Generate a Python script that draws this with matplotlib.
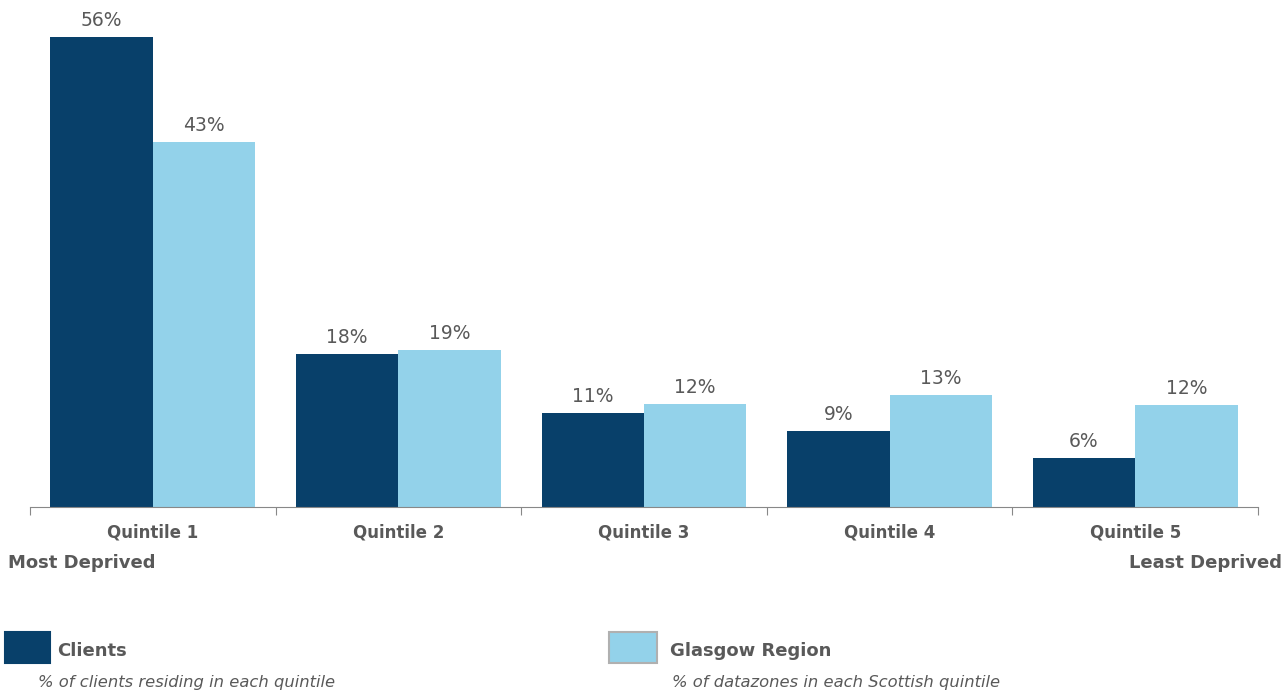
import matplotlib.pyplot as plt
import numpy as np

# data
quintiles = ['Quintile 1', 'Quintile 2', 'Quintile 3', 'Quintile 4', 'Quintile 5']
clients = [55.9, 18.2, 11.2, 9.1, 5.8]
glasgow = [43.4, 18.7, 12.3, 13.3, 12.1]
series_names = ['Clients', 'Glasgow Region']
series_notes = ['% of clients residing in each quintile',
                '% of datazones in each Scottish quintile']

dark = '#08406A'
light = '#93D2EA'
txt = '#595959'

plt.rcParams['font.family'] = ['DejaVu Sans']

fig = plt.figure(figsize=(12.85, 6.91), dpi=100)
ax = fig.add_axes([30 / 1285, 184 / 691, 1228 / 1285, 507 / 691])

x = np.arange(len(quintiles))
w = 0.417
b1 = ax.bar(x - w / 2, clients, width=w, color=dark, linewidth=0)
b2 = ax.bar(x + w / 2, glasgow, width=w, color=light, linewidth=0)

for bars, vals in ((b1, clients), (b2, glasgow)):
    for r, v in zip(bars, vals):
        ax.annotate('{:.0f}%'.format(v), (r.get_x() + r.get_width() / 2, v),
                    xytext=(0, 5), textcoords='offset points',
                    ha='center', va='bottom', fontsize=13.5, color=txt)

ax.set_xlim(-0.5, len(quintiles) - 0.5)
ax.set_ylim(0, 507 / 8.4)
ax.set_yticks([])
for s in ('top', 'right', 'left'):
    ax.spines[s].set_visible(False)
ax.spines['bottom'].set_color('#888888')
ax.set_xticks(np.arange(len(quintiles) + 1) - 0.5)
ax.set_xticklabels([])
ax.tick_params(axis='x', length=6, color='#888888', direction='out')

for xi, q in zip(x, quintiles):
    ax.text(xi, -3.0, q, ha='center', va='center', fontsize=12, fontweight='bold', color=txt)

fig.text(8 / 1285, 1 - 563 / 691, 'Most Deprived', ha='left', va='center',
         fontsize=13, fontweight='bold', color=txt)
fig.text(1282 / 1285, 1 - 563 / 691, 'Least Deprived', ha='right', va='center',
         fontsize=13, fontweight='bold', color=txt)

# legend drawn by hand (pixel positions from the reference)
box_x = [5, 609]
box_w = [45, 48]
name_x = [57, 670]
note_x = [38, 672]
colors = [dark, light]
edges = [dark, '#b0b0b0']
for i in range(2):
    fig.patches.append(plt.Rectangle((box_x[i] / 1285, 1 - 663 / 691), box_w[i] / 1285, 31 / 691,
                                     transform=fig.transFigure, facecolor=colors[i],
                                     edgecolor=edges[i], linewidth=1.5))
    fig.text(name_x[i] / 1285, 1 - 651 / 691, series_names[i], ha='left', va='center',
             fontsize=13, fontweight='bold', color=txt)
    fig.text(note_x[i] / 1285, 1 - 682 / 691, series_notes[i], ha='left', va='center',
             fontsize=11.8, style='italic', color=txt)

fig.savefig('out.png', dpi=100)
